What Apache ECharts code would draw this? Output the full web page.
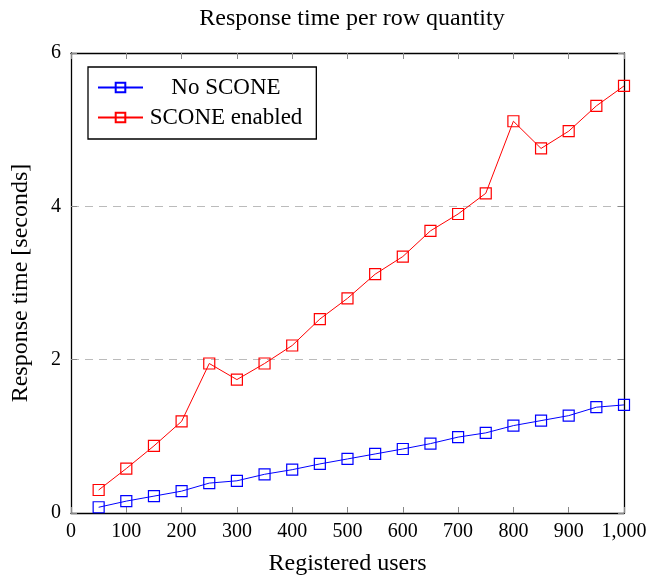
<!DOCTYPE html>
<html>
<head>
<meta charset="utf-8">
<script src="https://cdn.jsdelivr.net/npm/echarts@6/dist/echarts.min.js"></script>
<style>
  html, body { margin: 0; padding: 0; background: #fff; }
  #main { width: 663px; height: 581px; }
</style>
</head>
<body>
<div id="main"></div>
<script>
// registered users (x)
var users = [50, 100, 150, 200, 250, 300, 350, 400, 450, 500, 550, 600, 650, 700, 750, 800, 850, 900, 950, 1000];
// response time in seconds
var noScone = [0.075, 0.155, 0.22, 0.285, 0.39, 0.42, 0.505, 0.565, 0.64, 0.705, 0.77, 0.835, 0.905, 0.99, 1.045, 1.14, 1.205, 1.27, 1.38, 1.41];
var sconeEnabled = [0.30, 0.58, 0.875, 1.195, 1.95, 1.74, 1.95, 2.185, 2.53, 2.80, 3.115, 3.345, 3.68, 3.90, 4.17, 5.11, 4.755, 4.98, 5.31, 5.57];

var font = "'Liberation Serif', 'DejaVu Serif', serif";

function pairs(ys) {
  return users.map(function (x, i) { return [x, ys[i]]; });
}

var myChart = echarts.init(document.getElementById("main"));

var tickStyle = { show: true, inside: true, length: 6, lineStyle: { color: "#888", width: 1 } };
var frameLine = { show: true, onZero: false, lineStyle: { color: "#000", width: 1.3 } };

var option = {
  animation: false,
  textStyle: { fontFamily: font },
  title: {
    text: "Response time per row quantity",
    left: 347, top: 2, textAlign: "center",
    textStyle: { fontFamily: font, fontSize: 24, fontWeight: "normal", color: "#000" }
  },
  legend: {
    orient: "vertical",
    left: 88, top: 67,
    padding: [9, 14, 10, 9],
    itemGap: 7,
    itemWidth: 45, itemHeight: 12,
    borderColor: "#000", borderWidth: 1.3,
    formatter: function (name) { return "{c|" + name + "}"; },
    textStyle: {
      fontFamily: font, fontSize: 23, color: "#000",
      rich: { c: { fontFamily: font, fontSize: 23, color: "#000", width: 156, align: "center" } }
    },
    data: ["No SCONE", "SCONE enabled"]
  },
  grid: { left: 71, right: 39, top: 53, bottom: 67.5 },
  xAxis: [
    {
      type: "value", min: 0, max: 1000, interval: 100, position: "bottom",
      name: "Registered users", nameLocation: "middle", nameGap: 39,
      nameTextStyle: { fontFamily: font, fontSize: 24, color: "#000" },
      axisLine: frameLine,
      axisTick: tickStyle,
      axisLabel: {
        fontFamily: font, fontSize: 20, color: "#000", margin: 9,
        formatter: function (v) { return v.toLocaleString("en-US"); }
      },
      splitLine: { show: false }
    },
    {
      type: "value", min: 0, max: 1000, interval: 100, position: "top",
      axisLine: frameLine, axisTick: tickStyle,
      axisLabel: { show: false }, splitLine: { show: false }
    }
  ],
  yAxis: [
    {
      type: "value", min: 0, max: 6, interval: 2, position: "left",
      name: "Response time [seconds]", nameLocation: "middle", nameGap: 38,
      nameTextStyle: { fontFamily: font, fontSize: 24, color: "#000" },
      axisLine: frameLine, axisTick: tickStyle,
      axisLabel: { fontFamily: font, fontSize: 20, color: "#000", margin: 10 },
      splitLine: { show: true, lineStyle: { color: "#bbb", type: [8, 6], width: 1 } }
    },
    {
      type: "value", min: 0, max: 6, interval: 2, position: "right",
      axisLine: frameLine, axisTick: tickStyle,
      axisLabel: { show: false }, splitLine: { show: false }
    }
  ],
  series: [
    {
      name: "No SCONE", type: "line",
      data: pairs(noScone),
      symbol: "rect", symbolSize: 11,
      lineStyle: { color: "#0000ff", width: 1 },
      itemStyle: { color: "rgba(0,0,0,0)", borderColor: "#0000ff", borderWidth: 1.2 },
      z: 3
    },
    {
      name: "SCONE enabled", type: "line",
      data: pairs(sconeEnabled),
      symbol: "rect", symbolSize: 11,
      lineStyle: { color: "#ff0000", width: 1 },
      itemStyle: { color: "rgba(0,0,0,0)", borderColor: "#ff0000", borderWidth: 1.2 },
      z: 3
    }
  ]
};

myChart.setOption(option);
</script>
</body>
</html>
